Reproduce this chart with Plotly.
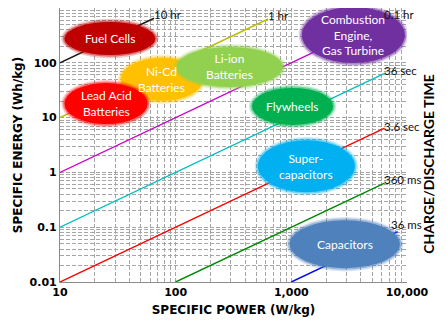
import numpy as np
import plotly.graph_objects as go

# Constant charge/discharge time lines (E = P * t), end points in W/kg and Wh/kg
time_labels = ["10 hr", "1 hr", "0.1 hr", "36 sec", "3.6 sec", "360 ms", "36 ms"]
power_start = [10, 10, 10, 10, 10, 100, 1000]
power_end = [65, 630, 6400, 6400, 6400, 6400, 8300]
energy_start = [100, 10, 1, 0.1, 0.01, 0.01, 0.01]
energy_end = [650, 630, 640, 64, 6.4, 0.64, 0.083]

# Storage technologies: typical specific power (W/kg) and specific energy (Wh/kg)
tech_names = ["Fuel Cells", "Ni-Cd<br>Batteries", "Lead Acid<br>Batteries",
              "Li-ion<br>Batteries", "Combustion<br>Engine,<br>Gas Turbine",
              "Flywheels", "Super-<br>capacitors", "Capacitors"]
tech_power = [27, 76, 25, 294, 3440, 1025, 1350, 2900]
tech_energy = [277, 50, 18, 84, 321, 16, 1.3, 0.049]

x_tickvals = [10, 100, 1000, 10000]
x_ticktext = ["10", "100", "1,000", "10,000"]
y_tickvals = [0.01, 0.1, 1, 10, 100, 1000]
y_ticktext = ["0.01", "0.1", "1", "10", "100", ""]

# Styling
line_colors = ["#1a1a1a", "#BDBD00", "#CC00CC", "#00BFC4", "#FF0000", "#008A00", "#0000FF"]
label_shift = [(-2, 4), (-2, 4), (-3, 4), (-3, 3), (-3, 2), (-3, 4), (-9, 7)]
tech_colors = ["#C00000", "#FFC000", "#FF0000", "#92D050", "#7030A0",
               "#00B050", "#00B0F0", "#4F81BD"]
# half-extent of each region ellipse, in decades (x: power, y: energy)
tech_half_x = [0.393, 0.354, 0.359, 0.458, 0.445, 0.350, 0.419, 0.476]
tech_half_y = [0.301, 0.392, 0.374, 0.365, 0.511, 0.338, 0.474, 0.438]
# soft edge: extra spread (decades) and opacity for each layer
edge_layers = [(0.028, 0.22), (0.014, 0.45), (0.0, 1.0)]

fig = go.Figure()

for i, name in enumerate(time_labels):
    fig.add_trace(go.Scatter(
        x=[power_start[i], power_end[i]],
        y=[energy_start[i], energy_end[i]],
        mode="lines", line=dict(color=line_colors[i], width=1.4),
        name=name, showlegend=False, hoverinfo="skip"))
    dx, dy = label_shift[i]
    fig.add_annotation(
        x=np.log10(power_end[i]), y=np.log10(energy_end[i]),
        text=name, showarrow=False, xanchor="left", yanchor="middle",
        xshift=dx, yshift=dy,
        font=dict(family="Lato", size=11.5, color="#111111"))

# Soft-edged ellipses for each technology region
for i, name in enumerate(tech_names):
    lx, ly = np.log10(tech_power[i]), np.log10(tech_energy[i])
    for grow, op in edge_layers:
        hx = tech_half_x[i] + grow
        hy = tech_half_y[i] + grow * 2.1
        fig.add_shape(
            type="circle", xref="x", yref="y",
            x0=10 ** (lx - hx), x1=10 ** (lx + hx),
            y0=10 ** (ly - hy), y1=10 ** (ly + hy),
            fillcolor=tech_colors[i], opacity=op,
            line=dict(width=0), layer="above")
    fig.add_annotation(
        x=lx, y=ly,
        text=name, showarrow=False, align="center",
        font=dict(family="Lato", size=12, color="white"))

grid_color = "#A6A6A6"
axis_font = dict(family="DejaVu Sans", size=11, color="#000000", weight="bold")

fig.update_xaxes(
    type="log", range=[1, 4],
    tickmode="array", tickvals=x_tickvals, ticktext=x_ticktext,
    tickfont=axis_font, ticks="",
    showgrid=True, gridcolor=grid_color, griddash="4px,2px", gridwidth=1,
    minor=dict(dtick="D1", showgrid=True, gridcolor=grid_color,
               griddash="4px,2px", gridwidth=1),
    showline=True, linecolor="#8C8C8C", linewidth=1.2,
    zeroline=False,
    title=dict(text="SPECIFIC POWER (W/kg)", standoff=7,
               font=dict(family="DejaVu Sans", size=12, color="#000000",
                         weight="bold")))

fig.update_yaxes(
    type="log", range=[-2, 3],
    tickmode="array", tickvals=y_tickvals, ticktext=y_ticktext,
    tickfont=axis_font, ticks="",
    showgrid=True, gridcolor=grid_color, griddash="4px,2px", gridwidth=1,
    minor=dict(dtick="D1", showgrid=True, gridcolor=grid_color,
               griddash="4px,2px", gridwidth=1),
    showline=True, linecolor="#8C8C8C", linewidth=1.2,
    zeroline=False,
    title=dict(text="SPECIFIC ENERGY (Wh/kg)", standoff=4,
               font=dict(family="DejaVu Sans", size=12, color="#000000",
                         weight="bold")))

fig.add_annotation(
    xref="paper", yref="paper", x=1, y=0.43,
    xshift=32, text="CHARGE/DISCHARGE TIME", textangle=-90,
    showarrow=False,
    font=dict(family="Lato", size=14, color="#000000", weight="bold"))

fig.update_layout(
    width=447, height=324,
    margin=dict(l=60, r=40, t=8, b=42),
    paper_bgcolor="white", plot_bgcolor="white",
    showlegend=False)

fig.write_html("out.html")
